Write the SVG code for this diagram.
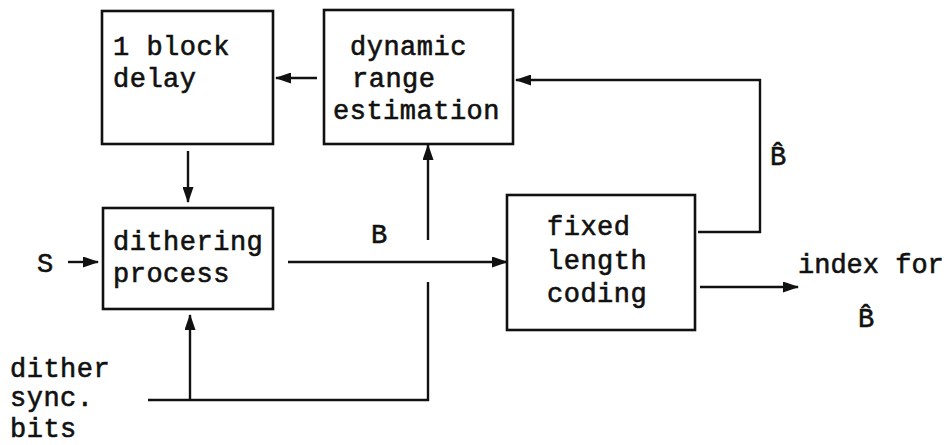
<svg xmlns="http://www.w3.org/2000/svg" width="947" height="445" viewBox="0 0 947 445">
<style>
.box{fill:#fff;stroke:#111;stroke-width:2.6}
.ln{fill:none;stroke:#111;stroke-width:2.4}
.t{font-family:"Liberation Mono","DejaVu Sans Mono",monospace;font-size:27px;fill:#111;stroke:#111;stroke-width:0.6;letter-spacing:0.5px}
</style>
<defs>
<marker id="ah" viewBox="0 0 16 11" refX="15" refY="5.5" markerWidth="16" markerHeight="11" markerUnits="userSpaceOnUse" orient="auto">
<path d="M0,0 L16,5.5 L0,11 Z" fill="#111"/>
</marker>
</defs>
<rect width="947" height="445" fill="#fff"/>
<g id="delay">
<rect class="box" x="102" y="11" width="171" height="133"/>
<text class="t" x="113" y="55">1 block</text>
<text class="t" x="113" y="87">delay</text>
</g>
<g id="dre">
<rect class="box" x="324" y="10" width="189" height="134"/>
<text class="t" x="350" y="55">dynamic</text>
<text class="t" x="352" y="87">range</text>
<text class="t" x="333" y="119">estimation</text>
</g>
<g id="dither">
<rect class="box" x="103" y="208" width="170" height="101"/>
<text class="t" x="113" y="250">dithering</text>
<text class="t" x="113" y="282">process</text>
</g>
<g id="flc">
<rect class="box" x="507" y="195" width="188" height="135"/>
<text class="t" x="547" y="235">fixed</text>
<text class="t" x="547" y="269">length</text>
<text class="t" x="547" y="302">coding</text>
</g>
<g id="labels">
<text class="t" x="37" y="272">S</text>
<text class="t" x="10" y="377">dither</text>
<text class="t" x="10" y="406">sync.</text>
<text class="t" x="10" y="437">bits</text>
<text class="t" x="371" y="243">B</text>
<text class="t" x="770" y="165">B̂</text>
<text class="t" x="798" y="273" style="letter-spacing:0">index for</text>
<text class="t" x="858" y="327">B̂</text>
</g>
<g id="connectors">
<line class="ln" x1="317" y1="78" x2="276" y2="78" marker-end="url(#ah)"/>
<line class="ln" x1="188" y1="151" x2="188" y2="202" marker-end="url(#ah)"/>
<line class="ln" x1="428" y1="240" x2="428" y2="145" marker-end="url(#ah)"/>
<line class="ln" x1="288" y1="262" x2="507" y2="262" marker-end="url(#ah)"/>
<line class="ln" x1="68" y1="262" x2="98" y2="262" marker-end="url(#ah)"/>
<polyline class="ln" points="428,282 428,400 148,400"/>
<line class="ln" x1="190" y1="400" x2="190" y2="315" marker-end="url(#ah)"/>
<polyline class="ln" points="698,232 760,232 760,80 516,80" marker-end="url(#ah)"/>
<line class="ln" x1="700" y1="287" x2="798" y2="287" marker-end="url(#ah)"/>
</g>
</svg>
